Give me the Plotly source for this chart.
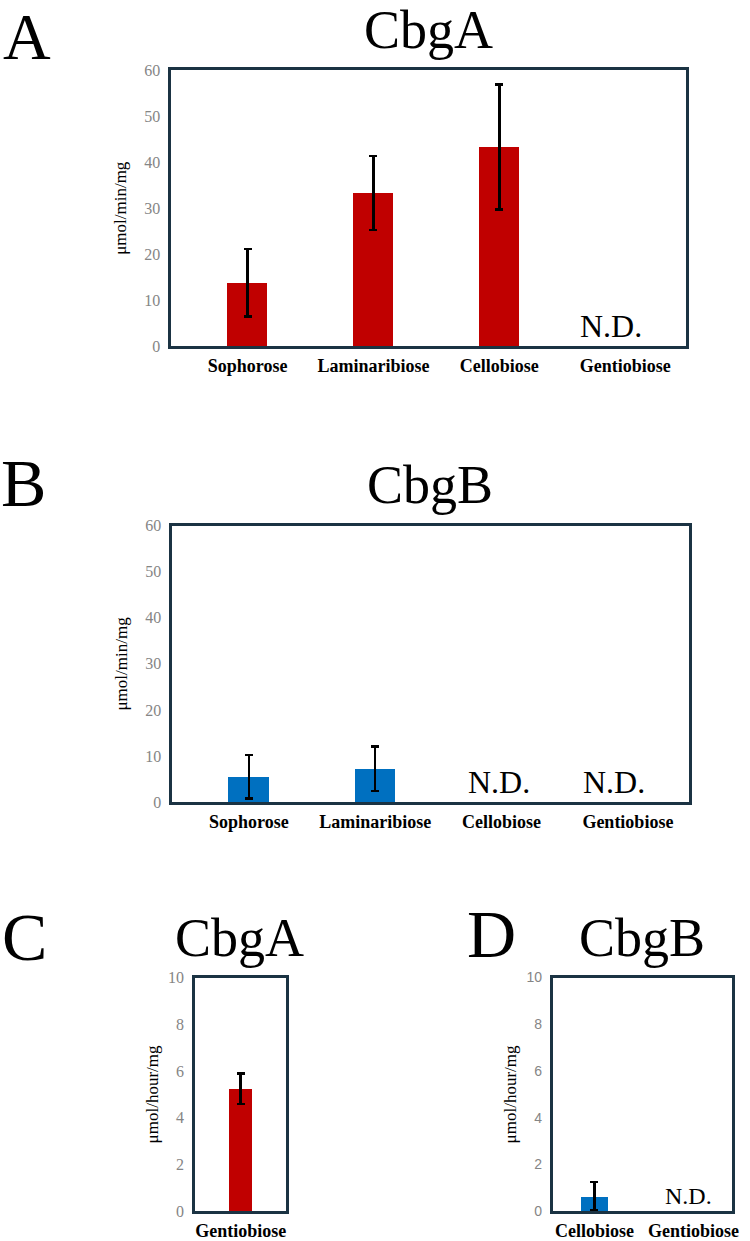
import plotly.graph_objects as go

W, H = 750, 1241

# ---------------- data ----------------
# Panels A / B : activity in µmol/min/mg
sugars_ab = ["Sophorose", "Laminaribiose", "Cellobiose", "Gentiobiose"]
cbga_min = [13.8, 33.3, 43.3, None]          # None = N.D.
cbga_min_err = [7.3, 8.0, 13.6, None]
cbgb_min = [5.5, 7.2, None, None]
cbgb_min_err = [4.7, 4.8, None, None]

# Panel C : CbgA, µmol/hour/mg
sugars_c = ["Gentiobiose"]
cbga_hour = [5.25]
cbga_hour_err = [0.65]

# Panel D : CbgB, µmol/hour/mg
sugars_d = ["Cellobiose", "Gentiobiose"]
cbgb_hour = [0.65, None]
cbgb_hour_err = [0.6, None]

yticks_ab = [0, 10, 20, 30, 40, 50, 60]
yticks_cd = [0, 2, 4, 6, 8, 10]

unit_min = "μmol/min/mg"
unit_hour = "μmol/hour/mg"

# ---------------- style ----------------
RED = "#C00000"
BLUE = "#0070C0"
BOX = "#1B3343"
SERIF = "Liberation Serif"
SANS = "Liberation Sans"
GRAY = "#858585"


def xd(l, r):
    return [l / W, r / W]


def yd(t, b):
    return [1 - b / H, 1 - t / H]


fig = go.Figure()


def add_bars(cats, vals, errs, color, width, xa, ya, nd_size, nd_shift):
    xs = [c for c, v in zip(cats, vals) if v is not None]
    ys = [v for v in vals if v is not None]
    es = [e for e, v in zip(errs, vals) if v is not None]
    fig.add_trace(go.Bar(
        x=xs, y=ys,
        marker=dict(color=color, line=dict(width=0)),
        width=width,
        error_y=dict(type="data", array=es, visible=True,
                     color="black", thickness=2.5, width=4),
        xaxis=xa, yaxis=ya, showlegend=False, hoverinfo="x+y",
    ))
    # N.D. labels for the categories without data
    for c, v in zip(cats, vals):
        if v is None:
            fig.add_annotation(
                x=c, y=0, xref=xa, yref=ya, text="N.D.", showarrow=False,
                yanchor="bottom", xanchor="center",
                xshift=nd_shift.get(c, 0),
                font=dict(family=SERIF, size=nd_size, color="black"),
            )


add_bars(sugars_ab, cbga_min, cbga_min_err, RED, 0.32, "x", "y", 32, {"Gentiobiose": -14})
add_bars(sugars_ab, cbgb_min, cbgb_min_err, BLUE, 0.32, "x2", "y2", 32,
         {"Cellobiose": -3, "Gentiobiose": -14})
add_bars(sugars_c, cbga_hour, cbga_hour_err, RED, 0.25, "x3", "y3", 24, {})
add_bars(sugars_d, cbgb_hour, cbgb_hour_err, BLUE, 0.27, "x4", "y4", 24, {"Gentiobiose": -5})


def xaxis(domain, rng, anchor):
    return dict(
        domain=domain, anchor=anchor, type="category", range=rng,
        categoryorder="array",
        showline=True, mirror=True, linecolor=BOX, linewidth=3,
        showgrid=False, zeroline=False, ticks="", ticklabelstandoff=1,
        tickfont=dict(family=SERIF, size=18, color="black", weight="bold"),
        fixedrange=True,
    )


def yaxis(domain, rng, ticks, title, anchor, tickfamily, tsize, standoff):
    return dict(
        domain=domain, anchor=anchor, range=rng,
        tickmode="array", tickvals=ticks,
        showline=True, mirror=True, linecolor=BOX, linewidth=3,
        showgrid=False, zeroline=False, ticks="", ticklabelstandoff=5,
        tickfont=dict(family=tickfamily, size=tsize, color=GRAY),
        title=dict(text=title, font=dict(family=SERIF, size=17, color="black"),
                   standoff=standoff),
        fixedrange=True,
    )


xa = xaxis(xd(173, 692), [-0.606, 3.48], "y")
xa["categoryarray"] = sugars_ab
xb = xaxis(xd(174, 695), [-0.606, 3.48], "y2")
xb["categoryarray"] = sugars_ab
xc = xaxis(xd(197, 289), [-0.5, 0.5], "y3")
xc["categoryarray"] = sugars_c
xdd = xaxis(xd(558, 739), [-0.42, 1.39], "y4")
xdd["categoryarray"] = sugars_d

fig.update_layout(
    width=W, height=H,
    margin=dict(l=0, r=0, t=0, b=0),
    paper_bgcolor="white", plot_bgcolor="white",
    bargap=0,
    xaxis=xa,
    yaxis=yaxis(yd(63, 343), [0, 60], yticks_ab, unit_min, "x", SERIF, 16, 14),
    xaxis2=xb,
    yaxis2=yaxis(yd(525, 805), [0, 60], yticks_ab, unit_min, "x2", SERIF, 16, 14),
    xaxis3=xc,
    yaxis3=yaxis(yd(983, 1220), [0, 10], yticks_cd, unit_hour, "x3", SERIF, 16, 6),
    xaxis4=xdd,
    yaxis4=yaxis(yd(983, 1220), [0, 10], yticks_cd, unit_hour, "x4", SANS, 14, 6),
)


def label(text, cx, cy, size):
    fig.add_annotation(
        x=cx / W, y=1 - cy / H, xref="paper", yref="paper", text=text,
        showarrow=False, xanchor="center", yanchor="middle",
        font=dict(family=SERIF, size=size, color="black"),
    )


# panel letters
label("A", 27, 29, 66)
label("B", 24, 482, 68)
label("C", 25, 942, 68)
label("D", 496, 939, 68)
# panel titles
label("CbgA", 433, 22, 54)
label("CbgB", 434, 484, 54)
label("CbgA", 242, 943, 54)
label("CbgB", 648, 943, 54)

fig.write_html("out.html")
